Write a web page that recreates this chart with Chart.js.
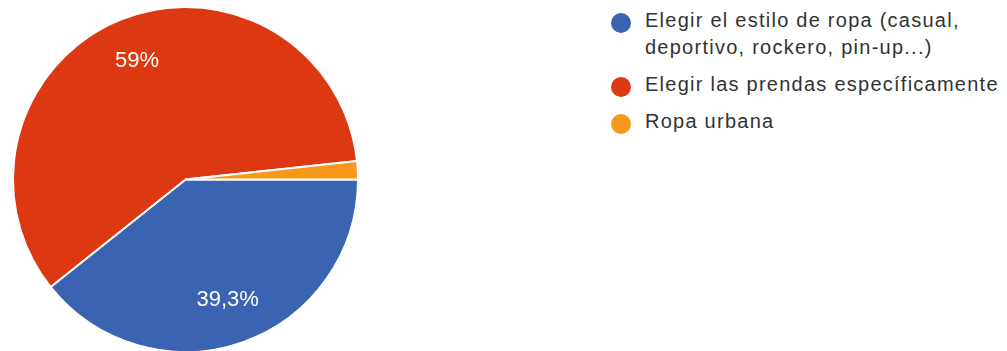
<!DOCTYPE html>
<html>
<head>
<meta charset="utf-8">
<script src="https://cdn.jsdelivr.net/npm/chart.js@4.4.1/dist/chart.umd.min.js"></script>
<style>
  html, body { margin: 0; padding: 0; background: #fff; overflow: hidden; }
  body { width: 1007px; height: 351px; position: relative; }
  #pieBox { position: absolute; left: 0; top: 0; width: 380px; height: 360px; }
  #legend {
    position: absolute; left: 611px; top: 7px; width: 396px;
    font-family: "Liberation Sans", Arial, sans-serif; font-size: 20px;
    letter-spacing: 1.25px; color: #333333; line-height: 27px;
  }
  .item { position: relative; padding-left: 34px; width: 368px; margin-bottom: 10px; }
  .dot { position: absolute; left: 0; top: 6px; width: 20px; height: 20px; border-radius: 50%; }
</style>
</head>
<body>
<div id="pieBox"><canvas id="pie" width="380" height="360"></canvas></div>
<div id="legend"></div>
<script>
"use strict";

var categories = [
  "Elegir el estilo de ropa (casual, deportivo, rockero, pin-up...)",
  "Elegir las prendas específicamente",
  "Ropa urbana"
];
var percentages = [39.3, 59, 1.7];
var sliceColors = ["#3a63b1", "#dc3912", "#f7981c"];

function formatPct(v) {
  return String(v).replace(".", ",") + "%";
}

// white percentage labels inside the big slices
var sliceLabels = {
  id: "sliceLabels",
  afterDatasetsDraw: function(chart) {
    var ctx = chart.ctx;
    var meta = chart.getDatasetMeta(0);
    ctx.save();
    ctx.font = "22px 'Liberation Sans', Arial, sans-serif";
    ctx.fillStyle = "#ffffff";
    ctx.textAlign = "center";
    ctx.textBaseline = "middle";
    meta.data.forEach(function(arc, i) {
      var v = percentages[i];
      if (v < 5) return;
      var mid = (arc.startAngle + arc.endAngle) / 2;
      var r = arc.outerRadius * 0.74;
      ctx.fillText(formatPct(v), arc.x + Math.cos(mid) * r, arc.y + Math.sin(mid) * r);
    });
    ctx.restore();
  }
};

new Chart(document.getElementById("pie"), {
  type: "pie",
  data: {
    labels: categories,
    datasets: [{
      data: percentages,
      backgroundColor: sliceColors,
      borderColor: "#ffffff",
      borderWidth: 2
    }]
  },
  options: {
    responsive: false,
    animation: false,
    rotation: 90,
    layout: { padding: { left: 12, top: 6, right: 21, bottom: 7 } },
    plugins: {
      legend: { display: false },
      tooltip: { enabled: false }
    }
  },
  plugins: [sliceLabels]
});

var legendBox = document.getElementById("legend");
categories.forEach(function(name, i) {
  var item = document.createElement("div");
  item.className = "item";
  var dot = document.createElement("span");
  dot.className = "dot";
  dot.style.background = sliceColors[i];
  item.appendChild(dot);
  item.appendChild(document.createTextNode(name));
  legendBox.appendChild(item);
});
</script>
</body>
</html>
